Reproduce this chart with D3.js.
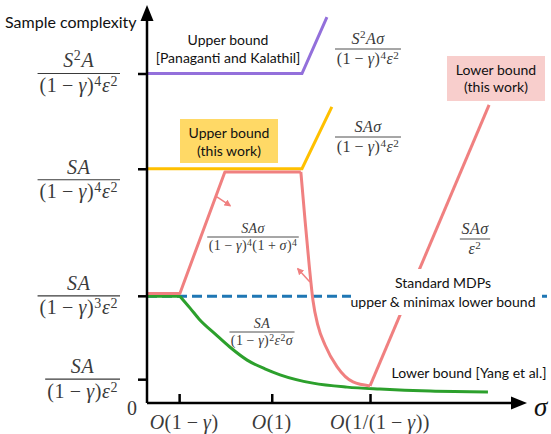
<!DOCTYPE html>
<html>
<head>
<meta charset="utf-8">
<script src="https://cdn.jsdelivr.net/npm/d3@7"></script>
<style>
  html, body { margin: 0; padding: 0; background: #fff; }
  svg { display: block; }
  .sans { font-family: Lato, 'Open Sans', sans-serif; fill: #111; }
  .math { font-family: 'Liberation Serif', 'DejaVu Serif', serif; fill: #3a3a3a; }
</style>
</head>
<body>
<svg id="chart" width="551" height="434"></svg>
<script>
// abstract units: sigma (x) and sample complexity (y), both 0..100
var yTicks      = [ 83, 59, 27, 6 ];
var yTickLabels = [
  [ 'S^2A', '(1 − γ)^4ε^2' ],
  [ 'SA',   '(1 − γ)^4ε^2' ],
  [ 'SA',   '(1 − γ)^3ε^2' ],
  [ 'SA',   '(1 − γ)ε^2' ]
];
var xTicks      = [ 8.5, 33, 59 ];
var xTickLabels = [ 'O(1 − γ)', 'O(1)', 'O(1/(1 − γ))' ];

// upper bound [Panaganti and Kalathil]
var purpleLine = [ [ 0, 83 ], [ 41, 83 ], [ 47.6, 97.2 ] ];
// upper bound (this work)
var yellowLine = [ [ 0, 59 ], [ 41, 59 ], [ 48.9, 74.6 ] ];
// lower bound (this work)
var pinkHead   = [ [ 0, 27.6 ], [ 8.7, 27.6 ], [ 20.6, 58.2 ], [ 40.7, 58.2 ] ];
var pinkDecay  = [ [ 40.7, 58.2 ], [ 41.8, 46.1 ], [ 42.9, 34.8 ], [ 43.9, 25.9 ], [ 45.2, 19.6 ],
                   [ 47.1, 14.6 ], [ 50.3, 9.1 ], [ 54.5, 5.3 ], [ 59, 4.3 ] ];
var pinkRise   = [ [ 59, 4.3 ], [ 90.5, 75.1 ] ];
// lower bound [Yang et al.]
var greenFlat  = [ [ 0, 26.9 ], [ 8.7, 26.9 ] ];
var greenDecay = [ [ 8.7, 26.9 ], [ 11.4, 23.9 ], [ 14, 20.9 ], [ 18, 17.4 ], [ 21.9, 14.1 ],
                   [ 26.5, 10.8 ], [ 31.2, 8.6 ], [ 35.2, 7.1 ], [ 43.9, 5 ], [ 52.9, 4 ],
                   [ 61.6, 3.5 ], [ 74.9, 3 ], [ 90.2, 2.8 ] ];
// standard MDPs
var blueLine   = [ [ 0, 26.9 ], [ 107, 26.9 ] ];
// arrows pointing into the gap region
var arrows     = [ [ [ 18.5, 51.9 ], [ 22, 49.7 ] ], [ [ 43.1, 30.5 ], [ 39.9, 33.8 ] ] ];

var colors = {
  purple : '#9370db',
  yellow : '#ffc000',
  pink   : '#f08080',
  green  : '#2ca02c',
  blue   : '#1f77b4'
};

var svg = d3.select( '#chart' ),
    x   = d3.scaleLinear().domain( [ 0, 100 ] ).range( [ 147, 525 ] ),
    y   = d3.scaleLinear().domain( [ 0, 100 ] ).range( [ 403, 6 ] ),
    x0  = x( 0 ),
    y0  = y( 0 );

function line( curve ) {
  return d3.line()
    .x( function( d ) { return x( d[ 0 ] ); } )
    .y( function( d ) { return y( d[ 1 ] ); } )
    .curve( curve || d3.curveLinear );
}

// write a tiny tex-like string into a text element: ^ raises the next char
function mathText( text, str, size, raise ) {
  var shift = 0, i, c, sup, target, t;
  raise = raise || 0.38;
  for ( i = 0; i < str.length; i++ ) {
    c = str[ i ];
    sup = false;
    if ( c === '^' ) { sup = true; c = str[ ++i ]; }
    if ( c === ' ' ) { c = '\u2009'; }
    target = sup ? -raise * size : 0;
    t = text.append( 'tspan' ).text( c ).attr( 'dy', target - shift );
    shift = target;
    if ( sup ) { t.attr( 'font-size', size * 0.7 ); }
    if ( /[A-Za-zα-ω]/.test( c ) ) { t.attr( 'font-style', 'italic' ); }
  }
  return text;
}

function fraction( g, cx, barY, num, den, size, align ) {
  var grp = g.append( 'g' ).attr( 'class', 'math' ).style( 'letter-spacing', ( size * 0.03 ) + 'px' ),
      n = mathText( grp.append( 'text' ).attr( 'text-anchor', 'middle' )
                      .attr( 'font-size', size ).attr( 'y', barY - 0.3 * size ), num, size, 0.38 ),
      d = mathText( grp.append( 'text' ).attr( 'text-anchor', 'middle' )
                      .attr( 'font-size', size ).attr( 'y', barY + 0.92 * size ), den, size, 0.3 ),
      w = Math.max( n.node().getComputedTextLength(), d.node().getComputedTextLength() ) + 0.2 * size;

  if ( align === 'right' ) { cx = cx - w / 2; }
  n.attr( 'x', cx );
  d.attr( 'x', cx );
  grp.append( 'line' )
    .attr( 'x1', cx - w / 2 ).attr( 'x2', cx + w / 2 )
    .attr( 'y1', barY ).attr( 'y2', barY )
    .attr( 'stroke', '#3a3a3a' ).attr( 'stroke-width', size > 16 ? 1.2 : 0.9 );
  return grp;
}

svg.append( 'defs' ).append( 'marker' )
  .attr( 'id', 'pinkArrow' )
  .attr( 'viewBox', '0 0 10 10' )
  .attr( 'refX', 8 ).attr( 'refY', 5 )
  .attr( 'markerWidth', 7 ).attr( 'markerHeight', 7 )
  .attr( 'markerUnits', 'userSpaceOnUse' )
  .attr( 'orient', 'auto' )
  .append( 'path' ).attr( 'd', 'M0,0 L10,5 L0,10 z' ).attr( 'fill', colors.pink );

// ---- series
var lines = svg.append( 'g' ).attr( 'fill', 'none' ).attr( 'stroke-width', 3 );

lines.append( 'path' ).attr( 'd', line()( blueLine ) )
  .attr( 'stroke', colors.blue ).attr( 'stroke-dasharray', '10,5' );
lines.append( 'path' ).attr( 'd', line()( greenFlat ) ).attr( 'stroke', colors.green );
lines.append( 'path' ).attr( 'd', line( d3.curveMonotoneX )( greenDecay ) ).attr( 'stroke', colors.green );
lines.append( 'path' ).attr( 'd', line()( purpleLine ) ).attr( 'stroke', colors.purple );
lines.append( 'path' ).attr( 'd', line()( yellowLine ) ).attr( 'stroke', colors.yellow );
lines.append( 'path' ).attr( 'd', line()( pinkHead ) ).attr( 'stroke', colors.pink ).attr( 'stroke-linejoin', 'round' );
lines.append( 'path' ).attr( 'd', line( d3.curveMonotoneX )( pinkDecay ) ).attr( 'stroke', colors.pink );
lines.append( 'path' ).attr( 'd', line()( pinkRise ) ).attr( 'stroke', colors.pink );

lines.selectAll( '.arrow' )
  .data( arrows )
  .enter().append( 'path' )
  .attr( 'class', 'arrow' )
  .attr( 'd', function( d ) { return line()( d ); } )
  .attr( 'stroke', colors.pink ).attr( 'stroke-width', 1.5 )
  .attr( 'marker-end', 'url(#pinkArrow)' );

// ---- axes
var yAxis = svg.append( 'g' )
  .attr( 'transform', 'translate(' + x0 + ',0)' )
  .call( d3.axisLeft( y ).tickValues( yTicks ).tickFormat( '' ).tickSize( 9 ).tickSizeOuter( 0 ) );
var xAxis = svg.append( 'g' )
  .attr( 'transform', 'translate(0,' + y0 + ')' )
  .call( d3.axisBottom( x ).tickValues( xTicks ).tickFormat( '' ).tickSize( -9 ).tickSizeOuter( 0 ) );

[ yAxis, xAxis ].forEach( function( a ) {
  a.select( '.domain' ).remove();
  a.selectAll( '.tick line' ).attr( 'stroke', '#000' ).attr( 'stroke-width', 2.5 );
} );

svg.append( 'path' )
  .attr( 'd', 'M' + x0 + ',' + y0 + 'V19 M' + x0 + ',' + y0 + 'H513' )
  .attr( 'stroke', '#000' ).attr( 'stroke-width', 2.5 ).attr( 'fill', 'none' );
svg.append( 'path' ).attr( 'd', 'M' + x0 + ',5 L' + ( x0 + 6.5 ) + ',21 L' + ( x0 - 6.5 ) + ',21 z' );
svg.append( 'path' ).attr( 'd', 'M527,' + y0 + ' L511,' + ( y0 - 6.5 ) + ' L511,' + ( y0 + 6.5 ) + ' z' );

// ---- tick labels
var yLabelShift = [ 0, 11, 0, 0 ];
yTicks.forEach( function( v, i ) {
  fraction( svg, 120, y( v ) + yLabelShift[ i ], yTickLabels[ i ][ 0 ], yTickLabels[ i ][ 1 ], 20, 'right' );
} );

var xLabelShift = [ 5, 0, 10 ];
xTicks.forEach( function( v, i ) {
  mathText( svg.append( 'text' ).attr( 'class', 'math' ).attr( 'text-anchor', 'middle' )
    .style( 'letter-spacing', '0.5px' )
    .attr( 'font-size', 20 ).attr( 'x', x( v ) + xLabelShift[ i ] ).attr( 'y', 429 ), xTickLabels[ i ], 20 );
} );

svg.append( 'text' ).attr( 'class', 'math' ).attr( 'x', 132 ).attr( 'y', 415 )
  .attr( 'text-anchor', 'middle' ).attr( 'font-size', 20 ).text( '0' );
svg.append( 'text' ).attr( 'class', 'math' ).attr( 'x', 534 ).attr( 'y', 416 )
  .attr( 'font-size', 27 ).attr( 'font-style', 'italic' ).style( 'fill', '#111' ).text( 'σ' );

// ---- formulas
fraction( svg, 368, 49,  'S^2Aσ', '(1 − γ)^4ε^2', 16 );
fraction( svg, 368, 137, 'SAσ', '(1 − γ)^4ε^2', 16 );
fraction( svg, 253, 237, 'SAσ', '(1 − γ)^4(1 + σ)^4', 14 );
fraction( svg, 475, 239, 'SAσ', 'ε^2', 16 );
fraction( svg, 262, 332, 'SA', '(1 − γ)^2ε^2σ', 14 );

// ---- text annotations
function sansLines( cx, baselines, texts, size ) {
  texts.forEach( function( t, i ) {
    svg.append( 'text' ).attr( 'class', 'sans' ).attr( 'text-anchor', 'middle' )
      .attr( 'x', cx ).attr( 'y', baselines[ i ] ).attr( 'font-size', size ).text( t );
  } );
}

svg.append( 'text' ).attr( 'class', 'sans' ).attr( 'x', 5 ).attr( 'y', 28 )
  .attr( 'font-size', 16 ).text( 'Sample complexity' );

sansLines( 228, [ 45, 63 ], [ 'Upper bound', '[Panaganti and Kalathil]' ], 14 );

svg.append( 'rect' ).attr( 'x', 180 ).attr( 'y', 119 ).attr( 'width', 98 ).attr( 'height', 44 )
  .attr( 'fill', '#ffd966' );
sansLines( 229, [ 138, 156 ], [ 'Upper bound', '(this work)' ], 14 );

svg.append( 'rect' ).attr( 'x', 447 ).attr( 'y', 56 ).attr( 'width', 98 ).attr( 'height', 45 )
  .attr( 'fill', '#f8cecc' );
sansLines( 496, [ 75, 92 ], [ 'Lower bound', '(this work)' ], 14 );

svg.append( 'rect' ).attr( 'x', 351 ).attr( 'y', 269 ).attr( 'width', 191 ).attr( 'height', 46 )
  .attr( 'fill', '#fff' );
sansLines( 443, [ 288, 307 ], [ 'Standard MDPs', 'upper & minimax lower bound' ], 14 );

sansLines( 469, [ 378 ], [ 'Lower bound [Yang et al.]' ], 14 );
</script>
</body>
</html>
